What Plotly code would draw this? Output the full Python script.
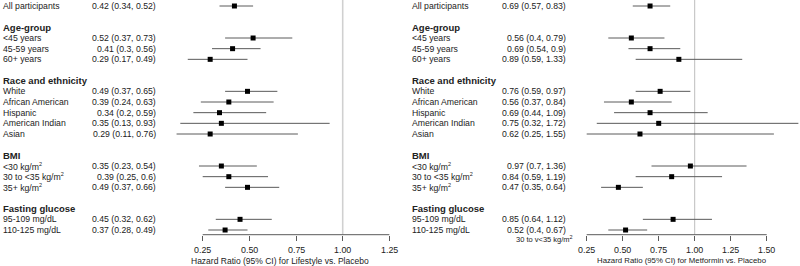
import plotly.graph_objects as go

# ---------------- data ----------------
SUP2 = "<sup><span style='font-size:5.5px'>2</span></sup>"
subgroup_labels = [
    "All participants",
    "&lt;45 years", "45-59 years", "60+ years",
    "White", "African American", "Hispanic", "American Indian", "Asian",
    "&lt;30 kg/m" + SUP2, "30 to &lt;35 kg/m" + SUP2, "35+ kg/m" + SUP2,
    "95-109 mg/dL", "110-125 mg/dL",
]
subgroup_rows = [0, 3, 4, 5, 8, 9, 10, 11, 12, 15, 16, 17, 20, 21]
heading_labels = ["Age-group", "Race and ethnicity", "BMI", "Fasting glucose"]
heading_rows = [2, 7, 14, 19]

lifestyle_hr = [0.42, 0.52, 0.41, 0.29, 0.49, 0.39, 0.34, 0.35, 0.29, 0.35, 0.39, 0.49, 0.45, 0.37]
lifestyle_lo = [0.34, 0.37, 0.3, 0.17, 0.37, 0.24, 0.2, 0.13, 0.11, 0.23, 0.25, 0.37, 0.32, 0.28]
lifestyle_hi = [0.52, 0.73, 0.56, 0.49, 0.65, 0.63, 0.59, 0.93, 0.76, 0.54, 0.6, 0.66, 0.62, 0.49]

metformin_hr = [0.69, 0.56, 0.69, 0.89, 0.76, 0.56, 0.69, 0.75, 0.62, 0.97, 0.84, 0.47, 0.85, 0.52]
metformin_lo = [0.57, 0.4, 0.54, 0.59, 0.59, 0.37, 0.44, 0.32, 0.25, 0.7, 0.59, 0.35, 0.64, 0.4]
metformin_hi = [0.83, 0.79, 0.9, 1.33, 0.97, 0.84, 1.09, 1.72, 1.55, 1.36, 1.19, 0.64, 1.12, 0.67]

lifestyle_ticks = [0.25, 0.5, 0.75, 1.0, 1.25]
metformin_ticks = [0.25, 0.5, 0.75, 1.0, 1.25, 1.5]
lifestyle_title = "Hazard Ratio (95% CI) for Lifestyle vs. Placebo"
metformin_title = "Hazard Ratio (95% CI) for Metformin vs. Placebo"
stray_note = "30 to v&lt;35 kg/m" + SUP2

# ---------------- layout helpers ----------------
W, H = 800, 266
FONT = "Liberation Sans, Arial, sans-serif"
TXT = "#222222"
LINE = "#5a5a5a"
ROW0, ROWH = 6.0, 10.667
AXIS_Y = 234.7


def px(xp):
    return xp / W


def py(yp):
    return 1 - yp / H


def xrange_for(dom_l, dom_r, ref_px, ref_val, px_per_unit):
    return [ref_val - (ref_px - dom_l) / px_per_unit, ref_val + (dom_r - ref_px) / px_per_unit]


y_range = [(AXIS_Y - ROW0) / ROWH, -ROW0 / ROWH]
y_domain = [py(AXIS_Y), 1.0]

panels = [
    dict(xa="x", ya="y", hr=lifestyle_hr, lo=lifestyle_lo, hi=lifestyle_hi,
         dom=(165, 395), ref=(202.7, 0.25, 186.67), ticks=lifestyle_ticks,
         label_x=1, value_x=158, title=lifestyle_title, title_x=279.5, title_size=8.5,
         ref_color="#d0d0d0", ref_width=1.6),
    dict(xa="x2", ya="y2", hr=metformin_hr, lo=metformin_lo, hi=metformin_hi,
         dom=(575, 800), ref=(586.7, 0.25, 144.0), ticks=metformin_ticks,
         label_x=410, value_x=567.7, title=metformin_title, title_x=682, title_size=7.8,
         ref_color="#bdbdbd", ref_width=1.0),
]

fig = go.Figure()
annotations = []
shapes = []

for i, p in enumerate(panels):
    # CI lines
    xs, ys = [], []
    for lo, hi, r in zip(p["lo"], p["hi"], subgroup_rows):
        xs += [lo, hi, None]
        ys += [r, r, None]
    fig.add_trace(go.Scatter(x=xs, y=ys, mode="lines", xaxis=p["xa"], yaxis=p["ya"],
                             line=dict(color=LINE, width=1), hoverinfo="skip", showlegend=False))
    # point estimates
    fig.add_trace(go.Scatter(x=p["hr"], y=subgroup_rows, mode="markers", xaxis=p["xa"], yaxis=p["ya"],
                             marker=dict(symbol="square", size=5, color="black"),
                             showlegend=False, cliponaxis=False))
    # reference line at 1
    shapes.append(dict(type="line", xref=p["xa"], yref=p["ya"] + " domain", x0=1, x1=1, y0=0, y1=1,
                       line=dict(color=p["ref_color"], width=p["ref_width"]), layer="below"))
    # axis line from first to last tick
    shapes.append(dict(type="line", xref=p["xa"], yref=p["ya"] + " domain",
                       x0=p["ticks"][0], x1=p["ticks"][-1], y0=0, y1=0,
                       line=dict(color=LINE, width=1)))
    # tick labels
    for t in p["ticks"]:
        annotations.append(dict(xref=p["xa"], yref="paper", x=t, y=py(250), text=f"{t:.2f}",
                                xanchor="center", yanchor="middle", showarrow=False,
                                font=dict(family=FONT, size=8.9, color=TXT)))
    # labels
    for lab, r, hr, lo, hi in zip(subgroup_labels, subgroup_rows, p["hr"], p["lo"], p["hi"]):
        annotations.append(dict(xref="paper", yref=p["ya"], x=px(p["label_x"]), y=r, text=lab,
                                xanchor="left", yanchor="middle", showarrow=False,
                                font=dict(family=FONT, size=8.7, color=TXT)))
        annotations.append(dict(xref="paper", yref=p["ya"], x=px(p["value_x"]), y=r,
                                text=f"{hr} ({lo}, {hi})",
                                xanchor="right", yanchor="middle", showarrow=False,
                                font=dict(family=FONT, size=8.7, color=TXT)))
    for lab, r in zip(heading_labels, heading_rows):
        annotations.append(dict(xref="paper", yref=p["ya"], x=px(p["label_x"]), y=r,
                                text=f"<b>{lab}</b>",
                                xanchor="left", yanchor="middle", showarrow=False,
                                font=dict(family=FONT, size=9.5, color=TXT)))
    annotations.append(dict(xref="paper", yref="paper", x=px(p["title_x"]), y=py(260.5), text=p["title"],
                            xanchor="center", yanchor="middle", showarrow=False,
                            font=dict(family=FONT, size=p["title_size"], color=TXT)))

annotations.append(dict(xref="paper", yref="paper", x=px(575), y=py(239), text=stray_note,
                        xanchor="right", yanchor="middle", showarrow=False,
                        font=dict(family=FONT, size=7.5, color=TXT)))

axis_common = dict(showgrid=False, zeroline=False, showline=False, ticks="outside", ticklen=5,
                   tickcolor=LINE, tickwidth=1, showticklabels=False)

p0, p1 = panels
fig.update_layout(
    width=W, height=H, margin=dict(l=0, r=0, t=0, b=0),
    paper_bgcolor="white", plot_bgcolor="white",
    xaxis=dict(domain=[px(p0["dom"][0]), px(p0["dom"][1])],
               range=xrange_for(*p0["dom"], *p0["ref"]), tickvals=p0["ticks"], anchor="y", **axis_common),
    xaxis2=dict(domain=[px(p1["dom"][0]), px(p1["dom"][1])],
                range=xrange_for(*p1["dom"], *p1["ref"]), tickvals=p1["ticks"], anchor="y2", **axis_common),
    yaxis=dict(domain=y_domain, range=y_range, visible=False, anchor="x"),
    yaxis2=dict(domain=y_domain, range=y_range, visible=False, anchor="x2"),
    annotations=annotations, shapes=shapes,
)

fig.write_html("out.html", config={"displayModeBar": False},
               post_script="document.body.style.margin='0px';document.body.style.overflow='hidden';")
